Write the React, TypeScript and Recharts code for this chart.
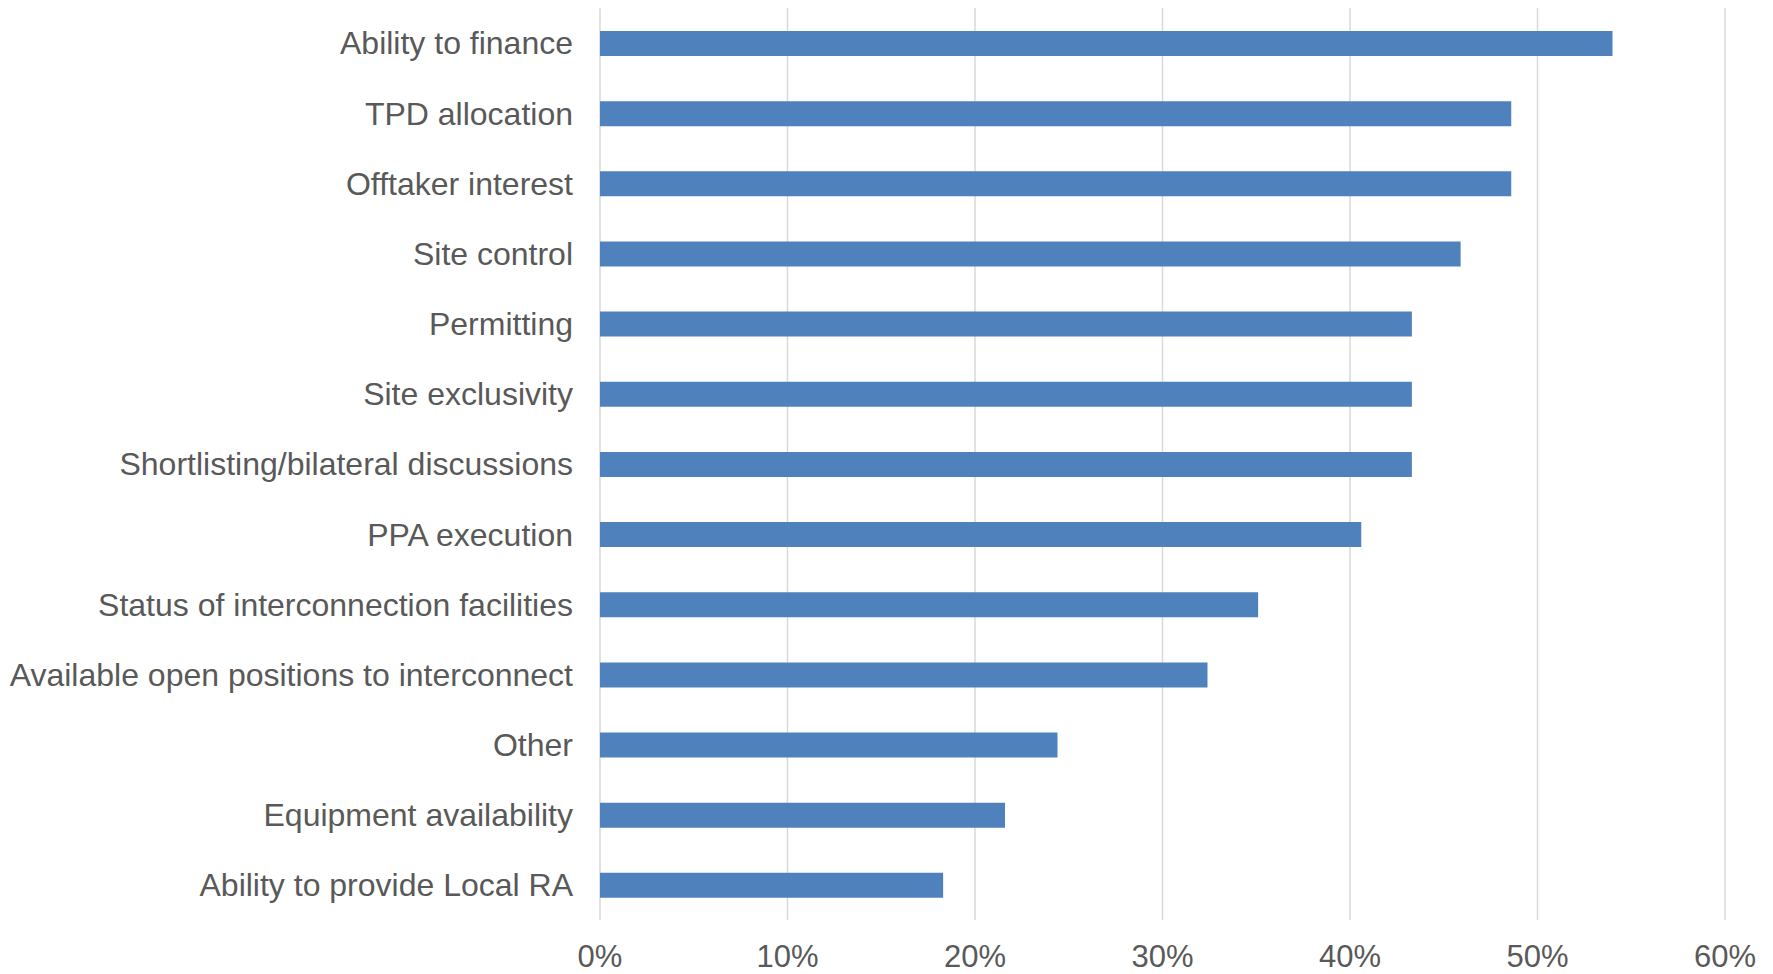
import { Bar, BarChart, CartesianGrid, XAxis, YAxis } from "recharts";

const categories = [
  "Ability to finance",
  "TPD allocation",
  "Offtaker interest",
  "Site control",
  "Permitting",
  "Site exclusivity",
  "Shortlisting/bilateral discussions",
  "PPA execution",
  "Status of interconnection facilities",
  "Available open positions to interconnect",
  "Other",
  "Equipment availability",
  "Ability to provide Local RA",
];

const shares = [54.0, 48.6, 48.6, 45.9, 43.3, 43.3, 43.3, 40.6, 35.1, 32.4, 24.4, 21.6, 18.3];

const xTicks = [0, 10, 20, 30, 40, 50, 60];

const data = categories.map((name, i) => ({ name, value: shares[i] }));

const FONT = "'Liberation Sans', Arial, sans-serif";
const TEXT = "#595959";

interface TickProps {
  x?: number;
  y?: number;
  payload?: { value: string };
}

function CategoryTick({ x = 0, y = 0, payload }: TickProps) {
  return (
    <text x={x} y={y} dy="0.355em" textAnchor="end" fill={TEXT} fontSize={32} fontFamily={FONT}>
      {payload?.value}
    </text>
  );
}

export default function App() {
  return (
    <div style={{ position: "absolute", left: 0, top: 0, width: 1773, height: 974, background: "#fff" }}>
      <BarChart
        width={1773}
        height={974}
        data={data}
        layout="vertical"
        margin={{ top: 8, right: 48, bottom: 0, left: 0 }}
        barSize={25}
      >
        <CartesianGrid horizontal={false} stroke="#d9d9d9" strokeWidth={1.5} />
        <XAxis
          type="number"
          domain={[0, 60]}
          ticks={xTicks}
          tickFormatter={(v: number) => `${v}%`}
          axisLine={false}
          tickLine={false}
          tickMargin={19}
          height={54}
          tick={{ fill: TEXT, fontSize: 31, fontFamily: FONT }}
          interval={0}
        />
        <YAxis
          type="category"
          dataKey="name"
          width={600}
          axisLine={false}
          tickLine={false}
          tickMargin={21}
          interval={0}
          tick={<CategoryTick />}
        />
        <Bar dataKey="value" fill="#4f81bd" isAnimationActive={false} />
      </BarChart>
    </div>
  );
}
